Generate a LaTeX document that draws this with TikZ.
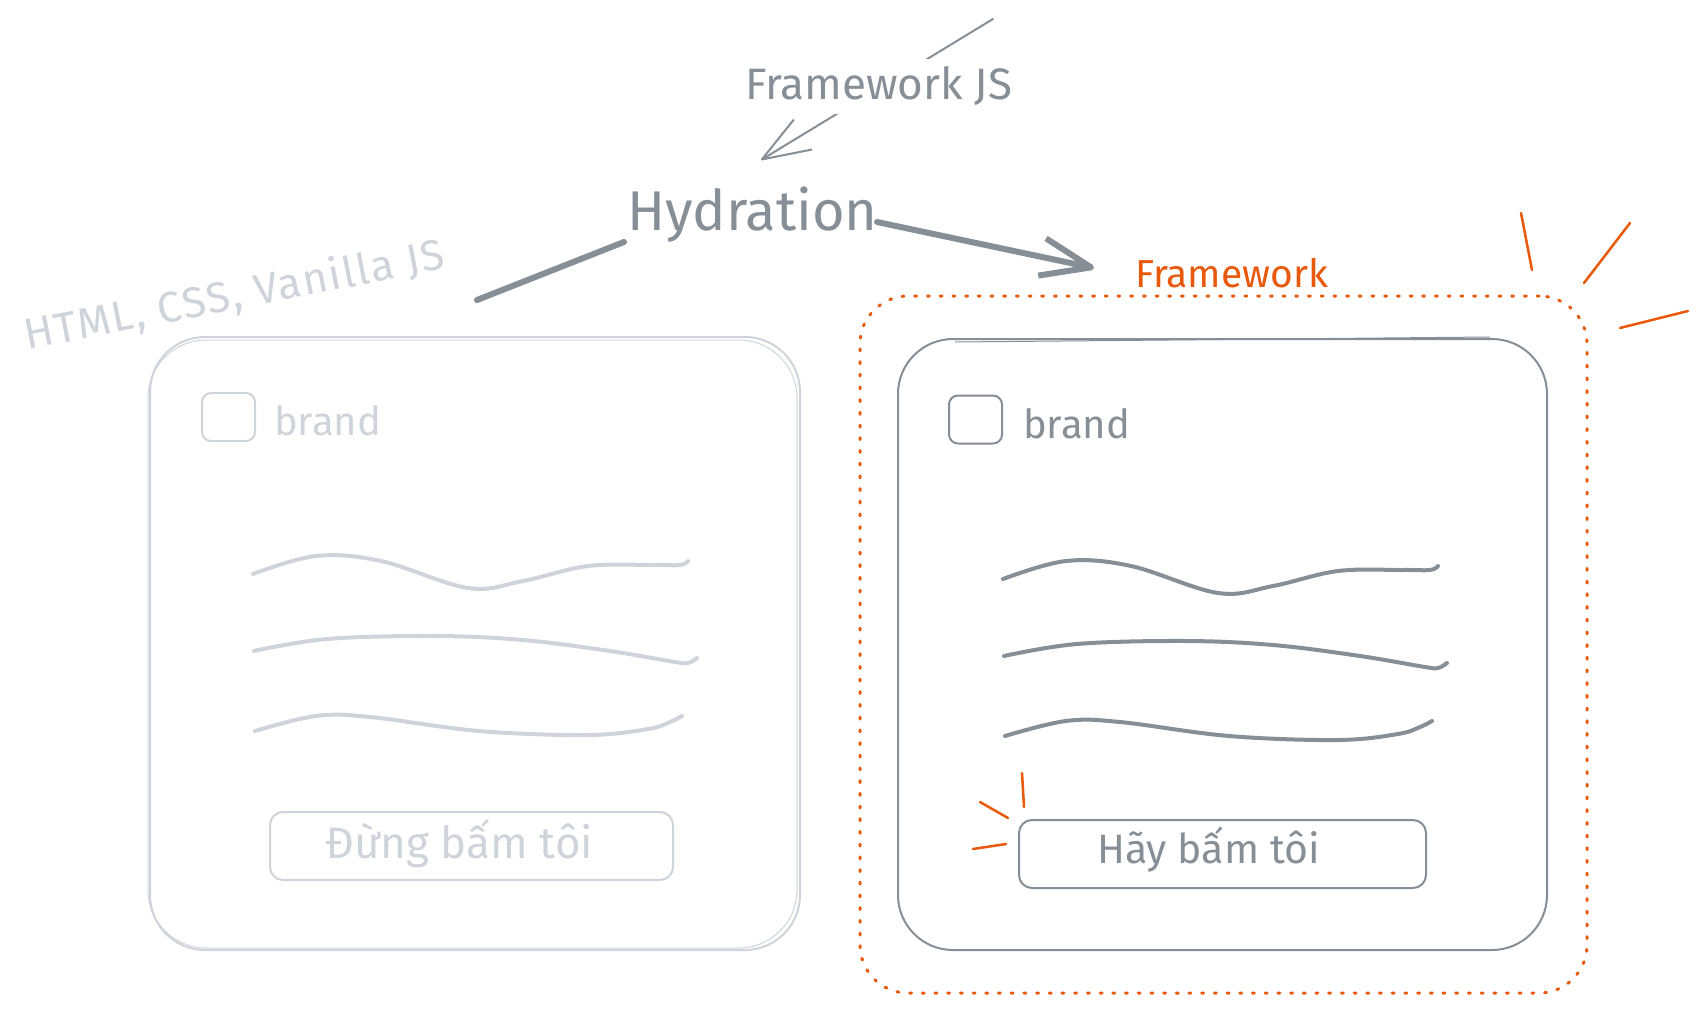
\documentclass[tikz,border=0pt]{standalone}
\usepackage{fontspec}
\setmainfont{Fira Sans}
\usetikzlibrary{arrows.meta}
\definecolor{ink}{HTML}{868E96}
\definecolor{faint}{HTML}{CED4DA}
\definecolor{accent}{HTML}{E8590C}
\newcommand\fsz[1]{\fontsize{#1}{#1}\selectfont}
\begin{document}
\begin{tikzpicture}[x=1pt,y=-1pt,
  lbl/.style={inner sep=0pt, anchor=base west},
  card/.style={draw, line width=2pt, rounded corners=55pt, inner sep=0pt},
  sketch/.style={line width=1pt, rounded corners=58pt},
  chk/.style={draw, line width=2pt, rounded corners=9pt, minimum width=53pt, minimum height=48pt, inner sep=0pt},
  btn/.style={draw, line width=2pt, rounded corners=13pt, inner sep=0pt, minimum height=68pt},
  wave/.style={line width=4pt, line cap=round, line join=round},
  ray/.style={accent, line width=2.5pt, line cap=round},
  frame/.style={draw=accent, line width=3pt, dash pattern=on 2pt off 10.7pt, line cap=round, rounded corners=48pt, inner sep=0pt},
  thinarrow/.style={ink, line width=2pt, line cap=round, -{Straight Barb[length=48pt,width=35pt,line join=round]}},
  thickarrow/.style={ink, line width=6pt, line cap=round, -{Straight Barb[length=50pt,width=38pt,line join=round]}},
]
\useasboundingbox (0,0) rectangle (1707,1014);

% ---------- top labels and connectors ----------
\coordinate (fjsTail) at (993,19);
\coordinate (hydTop) at (761,160);
\draw[thinarrow] (fjsTail) -- (hydTop);
\node[lbl, ink, fill=white, inner sep=8pt] (fjs) at (737,100) {\fsz{44}Framework JS};

\node[lbl, ink] (hyd) at (627,230) {\fsz{56}Hydration};
\coordinate (hydL) at (624,242);
\coordinate (hydR) at (877,222);
\coordinate (htmlEnd) at (477,300);
\coordinate (fwTip) at (1094,268);
\draw[ink, line width=6pt, line cap=round] (hydL) -- (htmlEnd);
\draw[thickarrow] (hydR) -- (fwTip);

\node[lbl, faint, rotate=11] (html) at (27,350) {\fsz{43}\addfontfeature{LetterSpace=4}HTML, CSS, Vanilla JS};
\node[lbl, accent] (fwl) at (1135,287) {\fsz{39}Framework};

% ---------- left card (static) ----------
\node[card, draw=faint, minimum width=650pt, minimum height=613pt] (lcard) at (475,643.5) {};
\draw[sketch, faint] (148,340) rectangle (797,948);
\node[chk, draw=faint] (lchk) at (228.5,417) {};
\node[lbl, faint] (lbrand) at (274,435) {\fsz{40}brand};
\draw[wave, faint] plot[smooth, tension=0.6] coordinates {(253,574) (316,556) (381,561) (468,588) (523,581) (588,566) (653,565) (680,565) (688,561)};
\draw[wave, faint] plot[smooth, tension=0.6] coordinates {(254,651) (327,639) (435,636) (523,640) (610,651) (675,662) (688,663) (697,658)};
\draw[wave, faint] plot[smooth, tension=0.6] coordinates {(255,731) (316,716) (370,717) (479,731) (588,735) (648,729) (670,722) (682,716)};
\node[btn, draw=faint, minimum width=403pt] (lbtn) at (471.5,846) {};
\node[lbl, faint] (ltxt) at (325,858) {\fsz{44}Đừng bấm tôi};

% ---------- right card (hydrated) ----------
\node[frame, minimum width=727pt, minimum height=697pt] (fwbox) at (1223.5,644.5) {};
\node[card, draw=ink, minimum width=649pt, minimum height=611pt] (rcard) at (1222.5,644.5) {};
\draw[ink, line width=1pt] (955,342) -- (1490,337);
\node[chk, draw=ink] (rchk) at (975.5,419.5) {};
\node[lbl, ink] (rbrand) at (1023,438) {\fsz{40}brand};
\begin{scope}[shift={(750,5)}]
\draw[wave, ink] plot[smooth, tension=0.6] coordinates {(253,574) (316,556) (381,561) (468,588) (523,581) (588,566) (653,565) (680,565) (688,561)};
\draw[wave, ink] plot[smooth, tension=0.6] coordinates {(254,651) (327,639) (435,636) (523,640) (610,651) (675,662) (688,663) (697,658)};
\draw[wave, ink] plot[smooth, tension=0.6] coordinates {(255,731) (316,716) (370,717) (479,731) (588,735) (648,729) (670,722) (682,716)};
\end{scope}
\node[btn, draw=ink, minimum width=407pt] (rbtn) at (1222.5,854) {};
\node[lbl, ink] (rtxt) at (1097,863) {\fsz{41}Hãy bấm tôi};

% ---------- emphasis rays ----------
\draw[ray] (1521,213) -- (1532,270);
\draw[ray] (1630,223) -- (1584,283);
\draw[ray] (1688,311) -- (1620,328);
\draw[ray] (1022,773) -- (1024,807);
\draw[ray] (980,802) -- (1008,818);
\draw[ray] (973,849) -- (1006,844);
\end{tikzpicture}
\end{document}
